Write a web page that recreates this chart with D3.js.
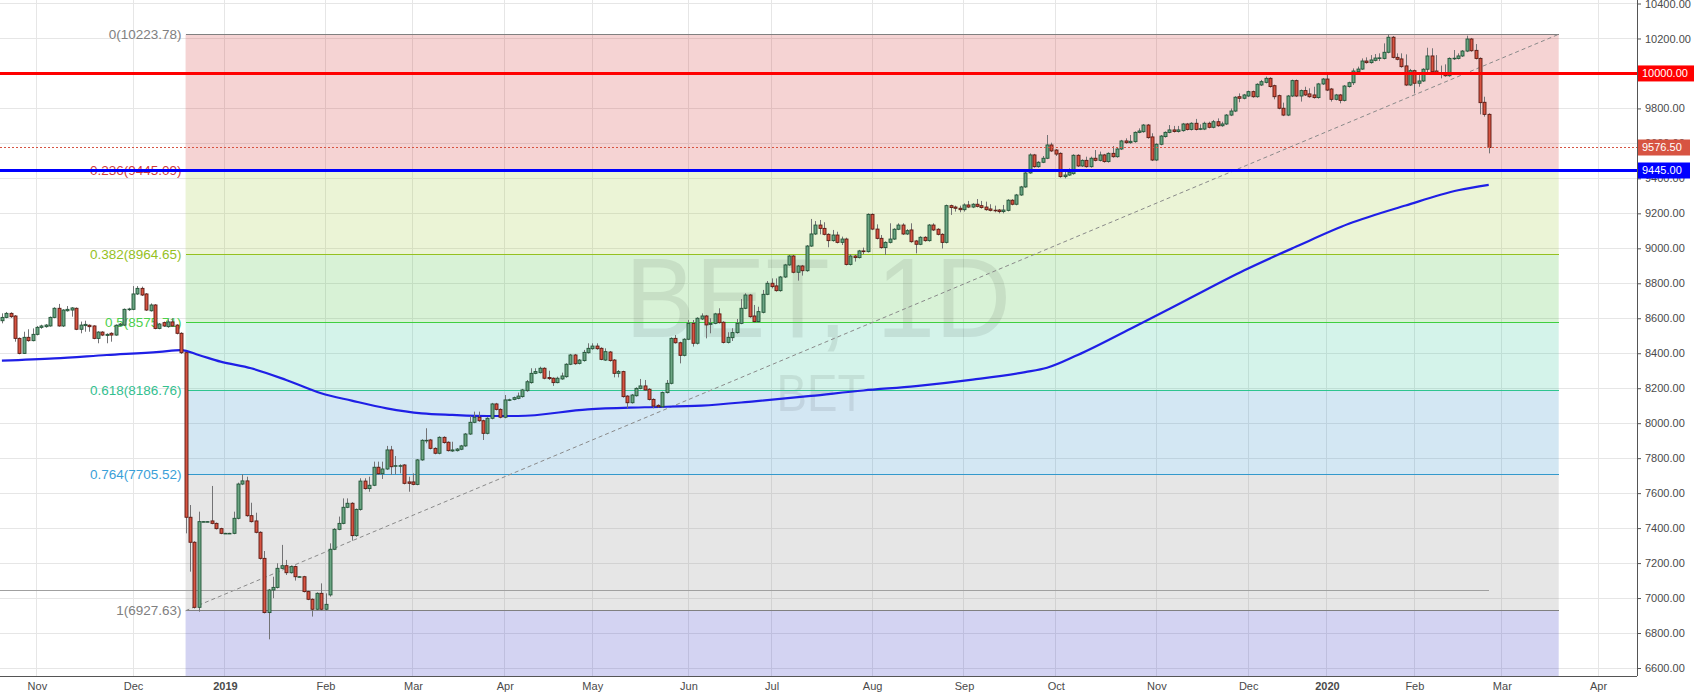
<!DOCTYPE html>
<html><head><meta charset="utf-8">
<script src="https://cdn.jsdelivr.net/npm/d3@7"></script>
<style>html,body{margin:0;padding:0;background:#fff;overflow:hidden}</style>
</head><body>
<svg id="c" width="1696" height="696"></svg>
<script>
// ---- DATA ----
// daily bars [open, high, low, close], bar index 0 = first visible session (late Oct 2018)
const ohlc = [
[8586,8628,8571,8605],[8605,8636,8600,8628],[8628,8634,8602,8609],[8613,8618,8466,8485],[8485,8490,8394,8399],
[8399,8523,8396,8491],[8491,8537,8466,8472],[8472,8542,8468,8508],[8508,8556,8502,8548],[8548,8563,8540,8556],
[8552,8567,8546,8561],[8556,8610,8552,8605],[8605,8663,8600,8657],[8657,8682,8552,8556],[8556,8652,8550,8647],
[8643,8670,8638,8651],[8647,8664,8609,8659],[8657,8662,8532,8537],[8537,8581,8514,8561],[8558,8586,8523,8565],
[8560,8565,8523,8552],[8556,8560,8480,8485],[8485,8526,8457,8521],[8521,8526,8498,8504],[8502,8514,8457,8508],
[8514,8520,8466,8504],[8504,8565,8500,8560],[8560,8573,8555,8567],[8561,8656,8556,8651],[8649,8660,8642,8653],
[8651,8784,8646,8739],[8739,8784,8733,8771],[8771,8781,8727,8733],[8739,8744,8642,8647],[8643,8685,8638,8676],
[8676,8681,8537,8542],[8542,8573,8537,8567],[8575,8581,8550,8556],[8552,8594,8546,8579],[8579,8600,8550,8556],
[8561,8566,8508,8514],[8514,8520,8396,8403],[8403,8408,7370,7462],[7462,7532,7151,7319],[7319,7325,6940,6947],
[6947,7494,6922,7437],[7437,7440,7434,7437],[7437,7440,7434,7437],[7441,7641,7422,7427],[7427,7432,7392,7397],
[7397,7402,7365,7370],[7370,7373,7367,7370],[7370,7373,7367,7370],[7370,7494,7365,7456],[7456,7660,7450,7652],
[7652,7708,7646,7670],[7670,7694,7465,7471],[7471,7545,7432,7437],[7441,7488,7370,7376],[7376,7382,7220,7227],
[7227,7269,6912,6917],[6917,7052,6764,7046],[7046,7122,6999,7061],[7061,7199,7055,7170],[7170,7304,7165,7185],
[7185,7218,7132,7145],[7145,7186,7140,7180],[7180,7186,7100,7122],[7122,7126,7118,7122],[7122,7127,7032,7037],
[7037,7042,6988,6993],[6993,6998,6894,6936],[6936,7033,6930,7027],[7027,7084,6930,6936],[6936,7027,6930,6964],
[7018,7313,7008,7279],[7279,7400,7274,7393],[7393,7466,7388,7427],[7427,7570,7422,7519],[7519,7570,7514,7542],
[7542,7548,7328,7357],[7357,7512,7350,7507],[7507,7685,7500,7669],[7669,7685,7620,7626],[7626,7694,7608,7645],
[7645,7780,7640,7748],[7748,7780,7705,7711],[7711,7780,7681,7738],[7738,7870,7733,7847],[7847,7870,7704,7751],
[7755,7812,7707,7757],[7757,7765,7713,7757],[7761,7766,7650,7656],[7664,7694,7608,7656],[7664,7713,7645,7650],
[7650,7795,7645,7790],[7790,7908,7785,7902],[7900,7971,7885,7902],[7904,7910,7850,7856],[7856,7862,7822,7828],
[7828,7925,7822,7919],[7919,7925,7883,7889],[7891,7896,7838,7843],[7841,7894,7836,7847],[7843,7858,7838,7852],
[7851,7876,7846,7870],[7870,7944,7865,7938],[7938,8041,7933,8005],[8005,8066,8000,8034],[8034,8066,8008,8014],
[8014,8020,7904,7942],[7942,8034,7936,8028],[8028,8116,8022,8110],[8110,8116,8073,8079],[8079,8085,8028,8034],
[8034,8161,8028,8133],[8132,8140,8126,8134],[8136,8152,8131,8146],[8142,8175,8137,8155],[8152,8196,8146,8190],
[8186,8247,8180,8237],[8232,8314,8226,8285],[8285,8314,8280,8295],[8289,8323,8284,8314],[8314,8320,8251,8257],
[8261,8300,8247,8255],[8257,8262,8213,8232],[8232,8266,8228,8257],[8253,8289,8248,8270],[8266,8343,8260,8337],
[8337,8396,8332,8390],[8390,8396,8334,8340],[8342,8367,8336,8361],[8358,8419,8352,8405],[8403,8457,8398,8428],
[8426,8457,8420,8441],[8441,8457,8420,8426],[8428,8434,8360,8365],[8361,8428,8356,8409],[8407,8413,8352,8358],
[8361,8367,8262,8285],[8285,8304,8262,8295],[8295,8300,8146,8152],[8155,8160,8085,8117],[8117,8167,8112,8161],
[8157,8205,8152,8199],[8199,8253,8194,8213],[8213,8247,8185,8190],[8194,8200,8130,8136],[8136,8142,8085,8098],
[8102,8108,8088,8094],[8094,8181,8088,8175],[8175,8247,8170,8228],[8228,8491,8222,8485],[8485,8504,8455,8460],
[8460,8466,8342,8388],[8388,8486,8382,8480],[8480,8590,8475,8571],[8571,8590,8438,8457],[8457,8606,8450,8600],
[8596,8628,8590,8613],[8613,8619,8485,8562],[8565,8600,8514,8571],[8571,8631,8566,8625],[8625,8657,8570,8575],
[8577,8583,8456,8462],[8462,8520,8456,8491],[8489,8543,8470,8518],[8518,8596,8512,8571],[8571,8710,8566,8657],
[8657,8743,8652,8733],[8733,8739,8603,8609],[8613,8676,8575,8581],[8581,8666,8575,8638],[8634,8762,8628,8737],
[8737,8813,8732,8800],[8800,8828,8771,8781],[8785,8828,8752,8758],[8758,8842,8752,8836],[8836,8911,8830,8905],
[8905,8962,8900,8956],[8956,8962,8857,8863],[8863,8905,8815,8899],[8899,8905,8844,8872],[8872,9019,8866,9013],
[9013,9168,9008,9082],[9082,9156,9076,9133],[9133,9162,9080,9114],[9114,9149,9074,9080],[9080,9086,9006,9044],
[9044,9105,9038,9076],[9076,9095,9028,9034],[9034,9067,9019,9053],[9053,9061,8902,8908],[8908,8966,8902,8956],
[8956,8962,8924,8947],[8947,8991,8942,8985],[8985,9004,8966,8981],[8981,9200,8976,9194],[9194,9200,9104,9110],
[9110,9137,9051,9057],[9057,9076,8998,9004],[9004,9040,8962,9034],[9034,9143,9028,9053],[9053,9115,9048,9109],
[9109,9143,9104,9133],[9133,9143,9076,9082],[9082,9110,9076,9101],[9105,9143,9032,9038],[9042,9048,8971,9023],
[9023,9069,9018,9063],[9063,9069,9038,9044],[9044,9139,9038,9133],[9133,9143,9099,9105],[9109,9115,9074,9080],
[9080,9086,8999,9034],[9034,9250,9028,9244],[9244,9250,9191,9233],[9236,9244,9210,9229],[9229,9244,9206,9221],
[9221,9257,9210,9248],[9248,9271,9230,9236],[9236,9258,9230,9252],[9252,9282,9234,9240],[9244,9271,9227,9233],
[9236,9267,9215,9221],[9225,9252,9211,9217],[9218,9244,9206,9216],[9219,9225,9200,9210],[9210,9248,9200,9219],
[9217,9281,9211,9275],[9275,9281,9246,9252],[9252,9311,9246,9305],[9305,9357,9300,9351],[9351,9437,9346,9431],
[9431,9543,9426,9534],[9534,9540,9461,9467],[9467,9498,9461,9492],[9492,9528,9487,9515],[9515,9648,9510,9591],
[9591,9604,9551,9557],[9562,9568,9528,9539],[9543,9549,9404,9410],[9410,9448,9400,9419],[9419,9457,9414,9435],
[9427,9538,9421,9532],[9532,9538,9465,9471],[9471,9509,9465,9503],[9503,9524,9461,9467],[9467,9524,9461,9515],
[9515,9562,9497,9503],[9503,9553,9497,9534],[9534,9540,9490,9496],[9496,9549,9490,9543],[9543,9585,9518,9524],
[9524,9574,9518,9568],[9568,9620,9562,9614],[9614,9629,9598,9604],[9604,9648,9598,9612],[9610,9669,9604,9663],
[9663,9686,9658,9671],[9667,9711,9661,9705],[9705,9711,9627,9633],[9637,9658,9499,9505],[9505,9601,9499,9595],
[9595,9648,9589,9642],[9639,9669,9633,9663],[9663,9705,9658,9677],[9677,9700,9662,9668],[9668,9700,9662,9677],
[9673,9717,9667,9711],[9711,9717,9674,9680],[9680,9721,9674,9715],[9715,9740,9674,9680],[9682,9709,9676,9684],
[9682,9724,9676,9715],[9715,9724,9686,9692],[9692,9734,9686,9724],[9724,9743,9695,9701],[9701,9724,9695,9711],
[9711,9768,9705,9762],[9762,9800,9756,9785],[9785,9870,9779,9864],[9867,9886,9835,9858],[9858,9883,9852,9877],
[9871,9902,9865,9896],[9896,9902,9861,9867],[9867,9944,9861,9938],[9934,9963,9928,9953],[9949,9982,9943,9972],
[9972,9978,9919,9925],[9930,9936,9852,9867],[9873,9879,9795,9801],[9801,9833,9756,9762],[9762,9877,9756,9871],
[9871,9965,9865,9959],[9959,9965,9865,9871],[9871,9908,9839,9902],[9902,9924,9871,9877],[9883,9915,9861,9867],
[9877,9924,9856,9862],[9862,9946,9856,9940],[9940,9974,9934,9968],[9968,10001,9899,9905],[9911,9917,9839,9852],
[9852,9883,9846,9877],[9877,9883,9829,9846],[9846,9934,9840,9928],[9925,9953,9919,9947],[9947,10029,9934,10014],
[10010,10039,10004,10025],[10025,10086,10020,10071],[10071,10092,10056,10062],[10062,10105,10056,10077],[10075,10111,10069,10088],
[10087,10115,10071,10089],[10086,10172,10080,10121],[10121,10224,10115,10207],[10207,10214,10086,10092],[10092,10115,10075,10081],
[10083,10115,10033,10039],[10043,10109,9928,9934],[9934,10026,9928,10016],[10016,10022,9886,9944],[9944,9991,9924,9957],
[9957,10030,9951,10024],[10024,10147,9995,10100],[10100,10144,10004,10010],[10014,10105,9993,9999],[10001,10045,9972,9995],
[9999,10052,9981,9987],[9987,10092,9981,10086],[10085,10134,10077,10087],[10086,10115,10080,10100],[10100,10134,10094,10128],
[10128,10216,10122,10197],[10197,10203,10124,10130],[10132,10168,10080,10086],[10086,10092,9766,9833],[9835,9867,9753,9766],
[9766,9772,9543,9576.5]
];
// moving average readings [bar index, value]
const maPoints = [[0,8358],[12,8371],[24,8390],[36,8408],[41,8418],[45,8390],[50,8352],[57,8314],[65,8247],[73,8171],
[80,8129],[88,8085],[96,8056],[103,8047],[111,8041],[118,8041],[134,8079],[147,8091],[160,8100],[172,8125],[185,8156],
[197,8187],[209,8212],[222,8249],[234,8292],[239,8317],[246,8390],[259,8552],[271,8706],[284,8873],[296,9010],[308,9140],
[321,9245],[333,9332],[340,9363]];
const monthIdx = [8,30,51,74,94,115,135,157,176,199,220,241,264,285,303,323,343,365];
const monthLabels = ["Nov","Dec","2019","Feb","Mar","Apr","May","Jun","Jul","Aug","Sep","Oct","Nov","Dec","2020","Feb","Mar","Apr"];
const priceTicks = [6600,6800,7000,7200,7400,7600,7800,8000,8200,8400,8600,8800,9000,9200,9400,9600,9800,10000,10200,10400];
const fibRatios = [0,0.236,0.382,0.5,0.618,0.764,1];
const fibValues = [10223.78,9445.09,8964.65,8575.71,8186.76,7705.52,6927.63];
const fibStartBar = 42, fibEndBar = 356;
const lastPrice = 9576.5, resistance = 10000, support = 9445, refLine = 7046;

// ---- STYLE ----
const fibLineColors = ["#808080","#e53935","#95c11f","#3fcf3f","#2ec48f","#3399cc","#808080"];
const fibLabelColors = ["#808080","#d23c3c","#95c11f","#4cd04c","#33c08f","#3aa0d8","#808080"];
const fibZoneColors = ["rgb(204,35,35)","rgb(155,200,50)","rgb(60,190,50)","rgb(40,195,150)","rgb(35,135,195)","rgb(128,128,128)","rgb(35,35,190)"];
const upFill="#6ba583", upBorder="#225437", dnFill="#d75442", dnBorder="#5b1a13", wickCol="#737375";

const W=1696,H=696,plotR=1637,plotB=676;
const svg=d3.select("#c");
const x=d3.scaleLinear().domain([0,374]).range([1.9,1.9+374*4.373]);
const y=d3.scaleLinear().domain([6600,10400]).range([668,3.5]);
const font="'Liberation Sans', Arial, sans-serif";

svg.append("rect").attr("width",W).attr("height",H).attr("fill","#fff");
const g=svg.append("g");
// grid
g.selectAll(".vg").data(monthIdx).join("line").attr("x1",d=>x(d)).attr("x2",d=>x(d)).attr("y1",0).attr("y2",plotB)
 .attr("stroke","#e6e6e6").attr("stroke-width",1).attr("shape-rendering","crispEdges");
g.selectAll(".hg").data(priceTicks).join("line").attr("x1",0).attr("x2",plotR).attr("y1",d=>y(d)).attr("y2",d=>y(d))
 .attr("stroke","#e6e6e6").attr("stroke-width",1).attr("shape-rendering","crispEdges");

// fib zones
const fx0=x(fibStartBar), fx1=x(fibEndBar);
const zones=fibValues.map((v,i)=>({top:y(v),bot:i<fibValues.length-1?y(fibValues[i+1]):plotB,c:fibZoneColors[i]}));
g.selectAll(".zone").data(zones).join("rect").attr("x",fx0).attr("width",fx1-fx0)
 .attr("y",d=>d.top).attr("height",d=>d.bot-d.top).attr("fill",d=>d.c).attr("fill-opacity",0.2);

// watermark
g.append("text").attr("x",818).attr("y",337).attr("text-anchor","middle").attr("font-family",font)
 .attr("font-size",114).attr("textLength",386).attr("lengthAdjust","spacingAndGlyphs")
 .attr("fill","rgba(0,0,0,0.08)").text("BET, 1D");
g.append("text").attr("x",821).attr("y",411).attr("text-anchor","middle").attr("font-family",font)
 .attr("font-size",52).attr("textLength",89).attr("lengthAdjust","spacingAndGlyphs")
 .attr("fill","rgba(0,0,0,0.08)").text("BET");

// fib lines & labels
fibValues.forEach((v,i)=>{
  g.append("line").attr("x1",fx0).attr("x2",fx1).attr("y1",y(v)).attr("y2",y(v))
   .attr("stroke",fibLineColors[i]).attr("stroke-width",1).attr("shape-rendering","crispEdges");
  g.append("text").attr("x",fx0-4).attr("y",y(v)).attr("dy","0.35em").attr("text-anchor","end")
   .attr("font-family",font).attr("font-size",13.5).attr("fill",fibLabelColors[i])
   .text(`${fibRatios[i]}(${v.toFixed(2)})`);
});
// fib trend line
g.append("line").attr("x1",fx0).attr("y1",y(fibValues[6])).attr("x2",fx1).attr("y2",y(fibValues[0]))
 .attr("stroke","#8a8a8a").attr("stroke-width",1).attr("stroke-dasharray","4,3");

// reference line
g.append("line").attr("x1",0).attr("x2",x(ohlc.length-1)).attr("y1",y(refLine)).attr("y2",y(refLine))
 .attr("stroke","#a0a0a0").attr("stroke-width",1).attr("shape-rendering","crispEdges");

// moving average
g.append("path").datum(maPoints).attr("fill","none").attr("stroke","#1f1fe6").attr("stroke-width",2.2)
 .attr("d",d3.line().x(d=>x(d[0])).y(d=>y(d[1])).curve(d3.curveMonotoneX));

// candles
const cg=g.append("g");
cg.selectAll(".wick").data(ohlc).join("line")
 .attr("x1",(d,i)=>Math.round(x(i))+0.5).attr("x2",(d,i)=>Math.round(x(i))+0.5)
 .attr("y1",d=>y(d[1])).attr("y2",d=>y(d[2])).attr("stroke",wickCol).attr("stroke-width",1);
cg.selectAll(".body").data(ohlc).join("rect")
 .attr("x",(d,i)=>Math.round(x(i))-1).attr("width",3)
 .attr("y",d=>y(Math.max(d[0],d[3]))).attr("height",d=>Math.max(0.6,Math.abs(y(d[0])-y(d[3]))))
 .attr("fill",d=>d[3]>=d[0]?upFill:dnFill).attr("stroke",d=>d[3]>=d[0]?upBorder:dnBorder).attr("stroke-width",0.9);

// key horizontal lines
g.append("line").attr("x1",0).attr("x2",plotR).attr("y1",y(lastPrice)).attr("y2",y(lastPrice))
 .attr("stroke",dnFill).attr("stroke-width",1).attr("stroke-dasharray","2,2");
g.append("line").attr("x1",0).attr("x2",plotR).attr("y1",y(resistance)).attr("y2",y(resistance))
 .attr("stroke","#ff0000").attr("stroke-width",3);
g.append("line").attr("x1",0).attr("x2",plotR).attr("y1",y(support)).attr("y2",y(support))
 .attr("stroke","#0000ff").attr("stroke-width",3);

// axes
const ya=svg.append("g").attr("transform",`translate(${plotR},0)`)
 .call(d3.axisRight(y).tickValues(priceTicks).tickFormat(d=>d.toFixed(2)).tickSize(4).tickPadding(4));
ya.select(".domain").remove();
ya.selectAll("line").attr("stroke","#555");
ya.selectAll("text").attr("font-family",font).attr("font-size",11).attr("fill","#4a4a4a");
svg.append("line").attr("x1",plotR+0.5).attr("x2",plotR+0.5).attr("y1",0).attr("y2",plotB).attr("stroke","#555");

const xa=svg.append("g").attr("transform",`translate(0,${plotB})`)
 .call(d3.axisBottom(x).tickValues(monthIdx).tickFormat((d,i)=>monthLabels[i]).tickSize(0).tickPadding(6));
xa.select(".domain").remove();
xa.selectAll("text").attr("font-family",font).attr("font-size",11).attr("fill","#4a4a4a")
 .attr("font-weight",(d,i)=>/^\d{4}$/.test(monthLabels[i])?"bold":"normal");
svg.append("line").attr("x1",0).attr("x2",plotR).attr("y1",plotB+0.5).attr("y2",plotB+0.5).attr("stroke","#555");

// price label boxes
const boxes=[{v:resistance,c:"#ff0000",t:"10000.00"},{v:lastPrice,c:dnFill,t:"9576.50"},{v:support,c:"#0000ff",t:"9445.00"}];
boxes.forEach(b=>{
  svg.append("rect").attr("x",plotR+1).attr("y",y(b.v)-8).attr("width",b.t.length>7?56:52).attr("height",16).attr("fill",b.c);
  svg.append("text").attr("x",plotR+5).attr("y",y(b.v)).attr("dy","0.35em").attr("font-family",font)
   .attr("font-size",11).attr("fill","#fff").text(b.t);
});
</script>
</body></html>
